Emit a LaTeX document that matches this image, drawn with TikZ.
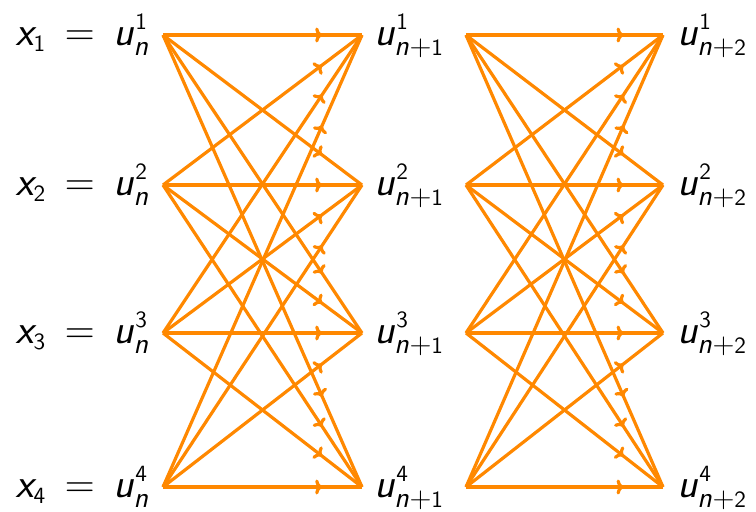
\documentclass[tikz,border=0pt]{standalone}
\usepackage{tikz}
\usetikzlibrary{arrows.meta, decorations.markings}
\SetSymbolFont{operators}{normal}{OT1}{cmss}{m}{n}
\SetSymbolFont{letters}{normal}{OT1}{cmss}{m}{sl}
\DeclareFontFamily{OT1}{cmssdig}{}
\DeclareFontShape{OT1}{cmssdig}{m}{n}{<-> s*[0.76] cmss10}{}
\DeclareSymbolFont{sfdigits}{OT1}{cmssdig}{m}{n}
\DeclareMathSymbol{1}{\mathalpha}{sfdigits}{"31}
\DeclareMathSymbol{2}{\mathalpha}{sfdigits}{"32}
\DeclareMathSymbol{3}{\mathalpha}{sfdigits}{"33}
\DeclareMathSymbol{4}{\mathalpha}{sfdigits}{"34}
\DeclareMathSizes{22}{22}{15.3}{12}
\definecolor{edgeorange}{RGB}{255,136,0}

\begin{document}
\begin{tikzpicture}[x=0.5pt, y=-0.5pt,
  flow/.style={color=edgeorange, line width=1.6pt, postaction={decorate},
    decoration={markings, mark=at position 0.8 with {\arrow{To[length=3.5pt, width=7.5pt]}}}},
  lbl/.style={font=\fontsize{22}{26}\selectfont, inner sep=0pt}]
\useasboundingbox (0,0) rectangle (756,511);
% four rows of each layer
\foreach \i/\y in {1/35, 2/185, 3/333, 4/487} {
  \coordinate (a\i) at (163,\y);
  \coordinate (b\i) at (362,\y);
  \coordinate (c\i) at (466,\y);
  \coordinate (d\i) at (663,\y);
  \node[lbl, anchor=base east] (la\i) at ([xshift=-6.5pt, yshift=-5pt]a\i) {$x_\i \mskip3mu = \mskip3mu u_n^\i$};
  \node[lbl, anchor=base west] (lb\i) at ([xshift=6pt, yshift=-5pt]b\i) {$u_{n+1}^\i$};
  \node[lbl, anchor=base west] (ld\i) at ([xshift=7pt, yshift=-5pt]d\i) {$u_{n+2}^\i$};
}
% every input to every output
\foreach \i in {1,...,4}
  \foreach \j in {1,...,4} {
    \draw[flow] (a\i) -- (b\j);
    \draw[flow] (c\i) -- (d\j);
  }
\end{tikzpicture}
\end{document}
